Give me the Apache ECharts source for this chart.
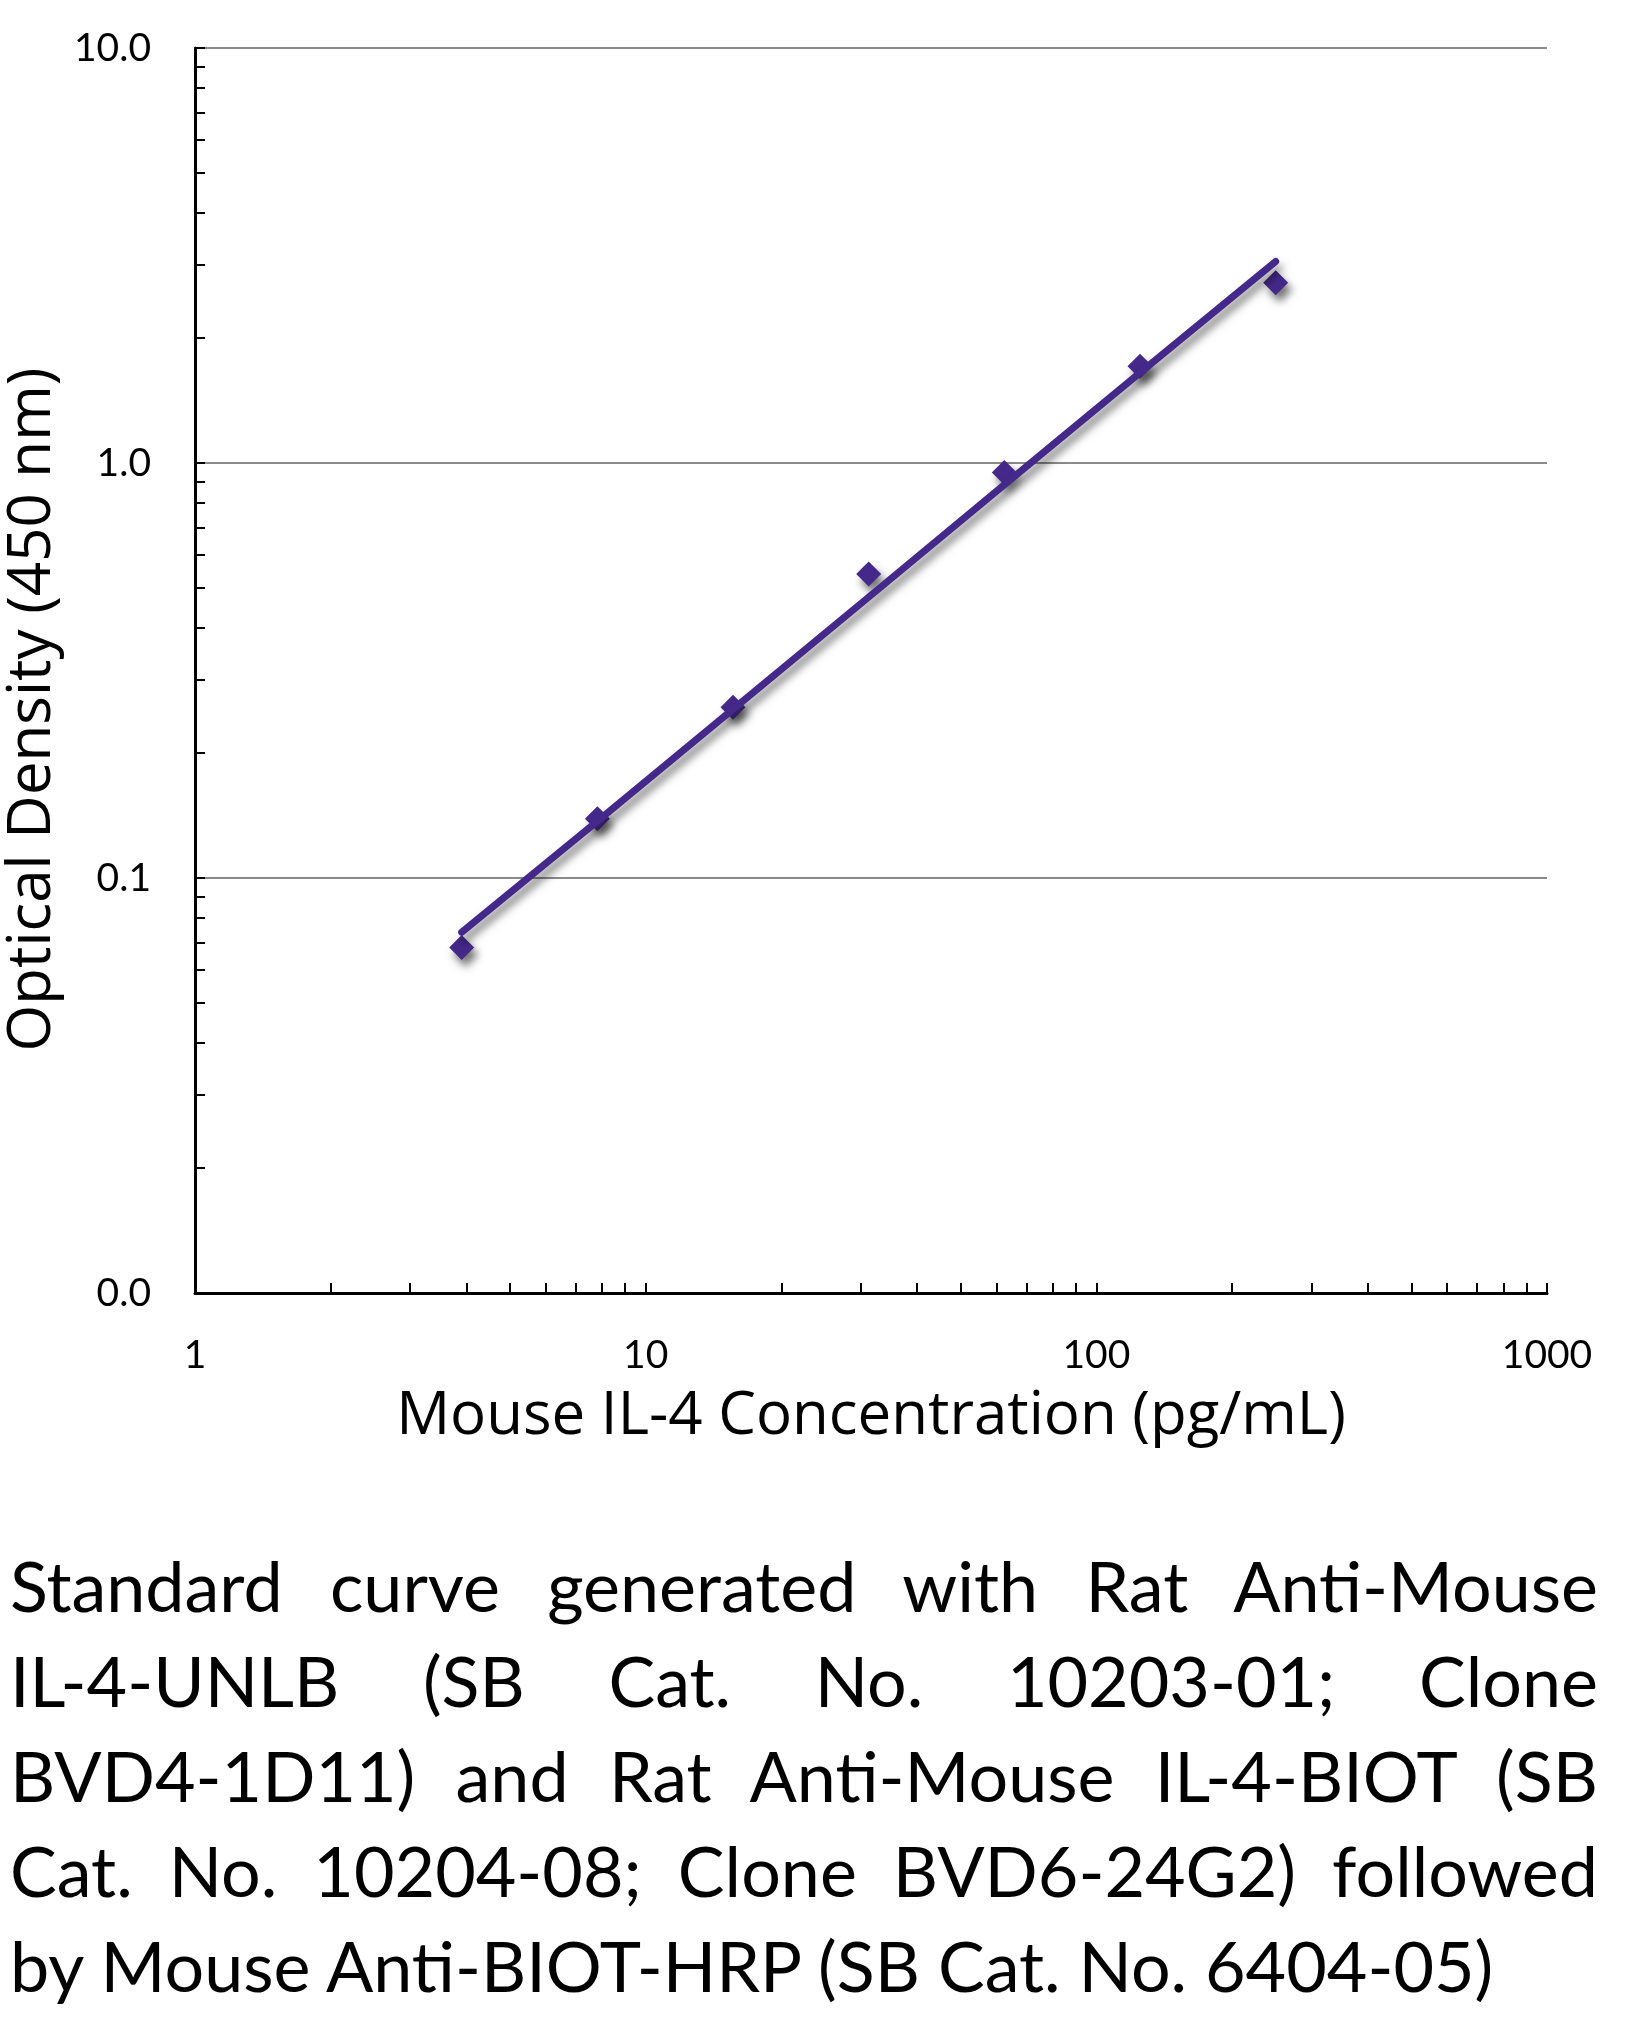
<!DOCTYPE html>
<html>
<head>
<meta charset="utf-8">
<script src="https://cdn.jsdelivr.net/npm/echarts@6/dist/echarts.min.js"></script>
<style>
  html, body { margin: 0; padding: 0; background: #ffffff; }
  #chart { position: absolute; left: 0; top: 0; width: 1640px; height: 1500px; }
  #caption {
    position: absolute; left: 10px; top: 1538px; width: 1588px;
    font-family: Lato, "Open Sans", sans-serif; font-size: 70px; line-height: 95px; color: #000;
  }
  #caption div { text-align: justify; text-align-last: justify; }
  #caption div.last { text-align-last: left; }
</style>
</head>
<body>
<div id="chart"></div>
<div id="caption"></div>
<script>
// ---- data ----
const concentrations = [3.906, 7.8125, 15.625, 31.25, 62.5, 125, 250];     // pg/mL
const opticalDensity = [0.068, 0.139, 0.258, 0.54, 0.949, 1.71, 2.72];     // measured OD
const fitDensity     = [0.074, 0.137, 0.255, 0.475, 0.886, 1.65, 3.06];    // fitted curve OD
const xTickLabels = [1, 10, 100, 1000];
const yTickLabels = [0.01, 0.1, 1, 10];
const xMinorTicks = [2,3,4,5,6,7,8,9,10,20,30,40,50,60,70,80,90,100,200,300,400,500,600,700,800,900,1000];
const yMinorTicks = [0.02,0.03,0.04,0.05,0.06,0.07,0.08,0.09,0.1,0.2,0.3,0.4,0.5,0.6,0.7,0.8,0.9,1,2,3,4,5,6,7,8,9,10];
const xTitle = 'Mouse IL-4 Concentration (pg/mL)';
const yTitle = 'Optical Density (450 nm)';
const captionLines = [
  'Standard curve generated with Rat Anti-Mouse',
  'IL-4-UNLB (SB Cat. No. 10203-01; Clone',
  'BVD4-1D11) and Rat Anti-Mouse IL-4-BIOT (SB',
  'Cat. No. 10204-08; Clone BVD6-24G2) followed',
  'by Mouse Anti-BIOT-HRP (SB Cat. No. 6404-05)'
];

const FONT = 'Lato, "Open Sans", sans-serif';
const TITLE_FONT = '"Open Sans", Lato, sans-serif';
const PURPLE = '#45298a';
const lg = Math.log10;
const yMin = lg(yTickLabels[0]), yMax = lg(yTickLabels[yTickLabels.length - 1]);

const chart = echarts.init(document.getElementById('chart'), null, { renderer: 'canvas' });
chart.setOption({
  backgroundColor: '#ffffff',
  animation: false,
  grid: { left: 195, right: 93, top: 48, bottom: 207, containLabel: false, outerBoundsMode: 'none' },
  xAxis: {
    type: 'value',
    min: lg(xTickLabels[0]), max: lg(xTickLabels[xTickLabels.length - 1]), interval: 1,
    name: xTitle, nameLocation: 'middle', nameGap: 94,
    nameTextStyle: { fontFamily: TITLE_FONT, fontSize: 60, color: '#000' },
    axisLine: { show: true, onZero: false, lineStyle: { color: '#000', width: 3 } },
    axisTick: { show: true, inside: true, length: 10, lineStyle: { color: '#000', width: 2 },
                customValues: xMinorTicks.map(lg) },
    axisLabel: { show: true, margin: 43, fontFamily: FONT, fontSize: 39, color: '#000',
                 customValues: xTickLabels.map(lg),
                 formatter: v => String(Math.round(Math.pow(10, v))) },
    splitLine: { show: false }
  },
  yAxis: [
    {
      type: 'value',
      min: yMin, max: yMax, interval: 1,
      name: yTitle, nameLocation: 'middle', nameGap: 123, nameRotate: 90,
      nameTextStyle: { fontFamily: TITLE_FONT, fontSize: 60, color: '#000', padding: [0, 78, 0, 0] },
      axisLine: { show: true, onZero: false, lineStyle: { color: '#000', width: 3 } },
      axisTick: { show: true, inside: true, length: 10, lineStyle: { color: '#000', width: 2 },
                  customValues: yMinorTicks.map(lg) },
      axisLabel: { show: true, margin: 44, fontFamily: FONT, fontSize: 39, color: '#000',
                   customValues: yTickLabels.map(lg),
                   formatter: v => Math.pow(10, v).toFixed(1) },
      splitLine: { show: false },
      z: 3
    },
    {
      // grid lines at the decades only
      type: 'value', position: 'left',
      min: yMin, max: yMax, interval: 1,
      axisLine: { show: false }, axisTick: { show: false }, axisLabel: { show: false },
      splitLine: { show: true, lineStyle: { color: '#8a8a8a', width: 2 } },
      z: 0
    }
  ],
  series: [
    {
      type: 'scatter',
      name: 'Measured',
      data: concentrations.map((c, i) => [lg(c), lg(opticalDensity[i])]),
      symbol: 'diamond',
      symbolSize: 25,
      itemStyle: { color: PURPLE, opacity: 1, shadowColor: 'rgba(0,0,0,0.55)', shadowBlur: 9, shadowOffsetX: 4, shadowOffsetY: 7 },
      z: 2
    },
    {
      type: 'line',
      name: 'Fit',
      data: concentrations.map((c, i) => [lg(c), lg(fitDensity[i])]),
      showSymbol: false,
      symbol: 'none',
      lineStyle: { color: PURPLE, width: 7, opacity: 1, cap: 'round', join: 'round',
                   shadowColor: 'rgba(0,0,0,0.5)', shadowBlur: 9, shadowOffsetX: 3, shadowOffsetY: 7 },
      z: 3
    }
  ]
});

const cap = document.getElementById('caption');
captionLines.forEach((t, i) => {
  const d = document.createElement('div');
  d.textContent = t;
  if (i === captionLines.length - 1) d.className = 'last';
  cap.appendChild(d);
});
</script>
</body>
</html>
